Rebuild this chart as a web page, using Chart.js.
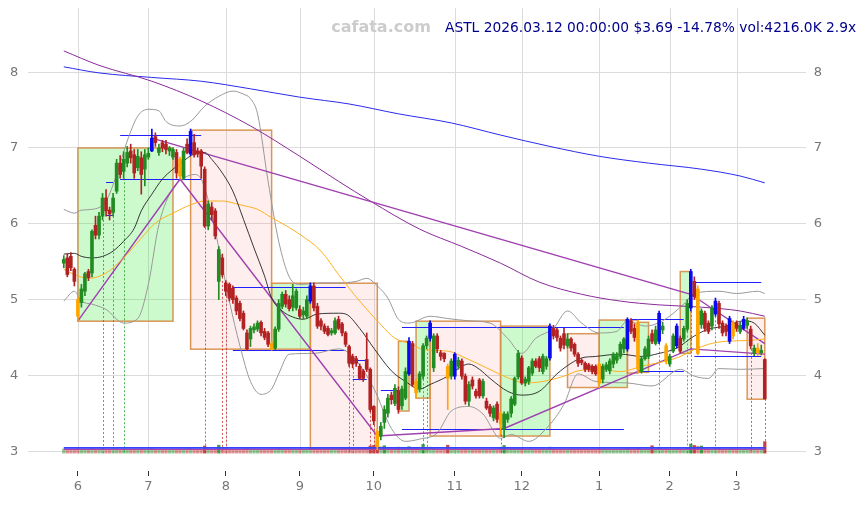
<!DOCTYPE html>
<html>
<head>
<meta charset="utf-8">
<script src="https://cdn.jsdelivr.net/npm/chart.js@4.4.1/dist/chart.umd.min.js"></script>
<style>
  html, body { margin: 0; padding: 0; background: #fff; }
</style>
</head>
<body>
<canvas id="chart" width="867" height="505"></canvas>
<script>
// daily candles, index 0 = 2025-05-27 ... index 199 = 2026-03-12
const opens = [
  5.48, 5.55, 5.57, 5.40, 5.00, 4.96, 5.11, 5.37, 5.35, 5.98,
  5.85, 6.10, 6.34, 6.18, 6.15, 6.43, 6.80, 6.69, 6.80, 6.96,
  6.91, 6.74, 6.87, 6.72, 6.88, 6.96, 7.15, 6.94, 7.07, 7.05,
  6.96, 6.88, 6.94, 6.85, 6.60, 7.05, 6.92, 7.07, 6.96, 6.96,
  6.72, 5.97, 6.22, 6.17, 5.24, 5.55, 5.22, 5.20, 5.15, 5.02,
  4.95, 4.82, 4.56, 4.48, 4.60, 4.61, 4.70, 4.58, 4.56, 4.42,
  4.36, 4.61, 4.91, 5.07, 5.00, 4.90, 4.89, 4.87, 4.80, 4.78,
  4.98, 5.18, 4.91, 4.72, 4.65, 4.62, 4.56, 4.56, 4.74, 4.68,
  4.56, 4.38, 4.25, 4.22, 4.12, 4.06, 4.21, 4.08, 3.59, 3.26,
  3.20, 3.38, 3.50, 3.74, 3.63, 3.80, 3.60, 3.70, 4.02, 4.42,
  3.92, 3.82, 3.99, 4.39, 4.49, 4.10, 4.52, 4.30, 4.29, 4.12,
  3.99, 3.99, 4.12, 4.19, 3.99, 3.66, 3.94, 3.79, 3.94, 3.73,
  3.66, 3.59, 3.44, 3.62, 3.50, 3.29, 3.42, 3.50, 3.62, 3.98,
  4.23, 3.90, 3.92, 4.03, 4.19, 4.22, 4.05, 4.12, 4.23, 4.62,
  4.60, 4.49, 4.55, 4.39, 4.48, 4.41, 4.28, 4.20, 4.16, 4.14,
  4.12, 4.12, 4.15, 3.95, 4.08, 4.06, 4.15, 4.20, 4.25, 4.35,
  4.35, 4.72, 4.62, 4.70, 4.05, 4.22, 4.25, 4.55, 4.42, 4.45,
  4.60, 4.39, 4.15, 4.32, 4.39, 4.49, 4.48, 4.61, 4.89, 5.24,
  5.14, 4.67, 4.82, 4.69, 4.65, 4.81, 4.95, 4.69, 4.65, 4.45,
  4.69, 4.69, 4.58, 4.62, 4.66, 4.61, 4.29, 4.36, 4.30, 4.21
];
const highs = [
  5.58, 5.60, 5.62, 5.42, 5.05, 5.20, 5.36, 5.40, 5.92, 6.10,
  6.15, 6.40, 6.45, 6.22, 6.40, 6.85, 6.90, 6.95, 7.02, 7.05,
  6.98, 6.98, 6.95, 6.98, 7.00, 7.25, 7.20, 7.05, 7.10, 7.10,
  7.02, 7.00, 6.98, 6.88, 7.00, 7.12, 7.25, 7.18, 7.00, 6.98,
  6.75, 6.30, 6.28, 6.20, 5.70, 5.60, 5.25, 5.22, 5.18, 5.05,
  4.98, 4.85, 4.60, 4.65, 4.68, 4.72, 4.72, 4.62, 4.58, 4.45,
  4.64, 5.00, 5.10, 5.12, 5.05, 5.20, 5.14, 4.92, 4.90, 5.05,
  5.22, 5.22, 4.95, 4.75, 4.68, 4.65, 4.62, 4.76, 4.78, 4.70,
  4.58, 4.40, 4.28, 4.25, 4.15, 4.08, 4.56, 4.10, 3.60, 3.30,
  3.38, 3.60, 3.75, 3.78, 3.88, 3.85, 3.86, 4.10, 4.50, 4.45,
  3.95, 4.05, 4.42, 4.52, 4.72, 4.55, 4.55, 4.33, 4.30, 4.15,
  4.22, 4.30, 4.24, 4.22, 4.02, 3.92, 3.98, 3.82, 3.96, 3.95,
  3.70, 3.62, 3.60, 3.65, 3.52, 3.52, 3.52, 3.72, 3.98, 4.33,
  4.26, 3.98, 4.12, 4.22, 4.22, 4.25, 4.28, 4.25, 4.68, 4.66,
  4.62, 4.52, 4.62, 4.55, 4.50, 4.43, 4.30, 4.22, 4.18, 4.16,
  4.14, 4.14, 4.18, 4.15, 4.17, 4.22, 4.30, 4.30, 4.44, 4.50,
  4.76, 4.75, 4.68, 4.73, 4.25, 4.38, 4.52, 4.60, 4.65, 4.85,
  4.70, 4.42, 4.28, 4.55, 4.68, 4.52, 4.65, 5.00, 5.40, 5.30,
  5.18, 4.88, 4.85, 4.72, 4.92, 5.02, 4.98, 4.72, 4.68, 4.78,
  4.72, 4.72, 4.70, 4.78, 4.76, 4.65, 4.40, 4.42, 4.40, 4.22
];
const lows = [
  5.42, 5.30, 5.38, 5.18, 4.72, 4.90, 5.05, 5.25, 5.30, 5.80,
  5.80, 6.05, 6.10, 6.05, 6.10, 6.40, 6.60, 6.60, 6.75, 6.80,
  6.60, 6.70, 6.39, 6.50, 6.85, 6.95, 7.02, 6.90, 6.95, 6.92,
  6.90, 6.85, 6.60, 6.59, 6.58, 6.92, 6.90, 6.88, 6.88, 6.60,
  5.95, 5.92, 6.05, 5.80, 5.00, 5.30, 5.05, 4.98, 4.95, 4.80,
  4.72, 4.60, 4.33, 4.38, 4.56, 4.58, 4.52, 4.47, 4.38, 4.33,
  4.34, 4.58, 4.88, 4.90, 4.85, 4.85, 4.86, 4.75, 4.75, 4.75,
  4.95, 4.85, 4.62, 4.60, 4.55, 4.52, 4.53, 4.54, 4.60, 4.52,
  4.38, 4.12, 4.10, 4.12, 3.94, 3.92, 4.05, 3.52, 3.35, 3.02,
  3.15, 3.30, 3.45, 3.62, 3.60, 3.50, 3.55, 3.68, 4.00, 3.85,
  3.70, 3.78, 3.95, 4.35, 4.45, 4.05, 4.30, 4.20, 4.18, 3.55,
  3.95, 3.95, 4.08, 3.95, 3.62, 3.60, 3.82, 3.70, 3.70, 3.70,
  3.55, 3.46, 3.40, 3.38, 3.22, 3.18, 3.38, 3.45, 3.60, 3.95,
  3.88, 3.86, 3.88, 4.00, 4.10, 4.05, 4.02, 4.08, 4.20, 4.48,
  4.45, 4.32, 4.35, 4.36, 4.32, 4.25, 4.12, 4.14, 4.05, 4.05,
  4.02, 4.00, 3.84, 3.90, 4.05, 4.02, 4.10, 4.16, 4.22, 4.30,
  4.32, 4.55, 4.45, 4.04, 4.03, 4.20, 4.22, 4.42, 4.40, 4.42,
  4.55, 4.15, 4.12, 4.30, 4.36, 4.30, 4.45, 4.58, 4.85, 5.00,
  4.27, 4.62, 4.58, 4.55, 4.60, 4.78, 4.62, 4.52, 4.52, 4.42,
  4.48, 4.58, 4.55, 4.60, 4.62, 4.35, 4.26, 4.26, 4.27, 3.69
];
const closes = [
  5.53, 5.33, 5.42, 5.24, 4.78, 5.14, 5.34, 5.29, 5.90, 5.85,
  6.10, 6.34, 6.17, 6.13, 6.34, 6.80, 6.65, 6.85, 6.94, 6.87,
  6.67, 6.89, 6.65, 6.91, 6.93, 7.13, 7.07, 7.00, 7.00, 6.98,
  7.00, 6.98, 6.67, 6.63, 6.96, 6.94, 7.22, 6.91, 6.92, 6.76,
  5.97, 6.26, 6.12, 5.84, 5.66, 5.33, 5.11, 5.02, 5.00, 4.85,
  4.75, 4.62, 4.35, 4.62, 4.64, 4.69, 4.56, 4.50, 4.41, 4.35,
  4.61, 4.95, 5.07, 4.94, 4.88, 5.05, 5.11, 4.78, 4.85, 5.00,
  5.18, 4.89, 4.65, 4.65, 4.58, 4.54, 4.59, 4.72, 4.62, 4.56,
  4.41, 4.16, 4.15, 4.16, 3.96, 3.96, 4.08, 3.55, 3.40, 3.06,
  3.33, 3.55, 3.70, 3.68, 3.83, 3.55, 3.82, 4.05, 4.45, 3.88,
  3.77, 4.02, 4.39, 4.49, 4.69, 4.52, 4.35, 4.25, 4.22, 3.96,
  4.19, 4.28, 4.20, 3.99, 3.66, 3.88, 3.86, 3.73, 3.73, 3.92,
  3.57, 3.50, 3.57, 3.42, 3.36, 3.49, 3.49, 3.69, 3.96, 4.29,
  3.90, 3.95, 4.10, 4.19, 4.12, 4.10, 4.25, 4.22, 4.65, 4.52,
  4.50, 4.36, 4.40, 4.48, 4.36, 4.28, 4.16, 4.17, 4.08, 4.08,
  4.05, 4.02, 3.90, 4.12, 4.14, 4.19, 4.28, 4.26, 4.41, 4.48,
  4.74, 4.58, 4.50, 4.08, 4.22, 4.35, 4.48, 4.45, 4.60, 4.82,
  4.65, 4.19, 4.25, 4.52, 4.65, 4.32, 4.62, 4.95, 5.37, 5.04,
  4.29, 4.85, 4.62, 4.58, 4.89, 4.98, 4.68, 4.56, 4.58, 4.75,
  4.52, 4.62, 4.66, 4.74, 4.72, 4.39, 4.36, 4.30, 4.33, 3.69
];
// volume in thousands of shares
const volumes = [
  1500, 1400, 1350, 1300, 1700, 1450, 1500, 1300, 2100, 1600,
  1500, 1700, 1400, 1300, 1450, 1650, 1350, 1500, 1400, 1300,
  1450, 1350, 1500, 1400, 1300, 2000, 1450, 1200, 1250, 1200,
  1150, 1200, 1400, 1500, 1450, 1300, 1900, 1400, 1200, 1350,
  2600, 1700, 1400, 1500, 2900, 1800, 1600, 1500, 1450, 1500,
  1550, 1500, 1700, 1400, 1200, 1300, 1250, 1300, 1400, 1500,
  1450, 1700, 1500, 1350, 1300, 1450, 1400, 1300, 1250, 1400,
  1800, 1600, 1500, 1400, 1350, 1300, 1250, 1400, 1350, 1400,
  1500, 1700, 1600, 1500, 1650, 1700, 1900, 2600, 2800, 3400,
  2300, 2700, 1900, 1600, 1700, 2200, 1800, 2000, 2500, 2000,
  1900, 1700, 3200, 2000, 2200, 1800, 1500, 1400, 1350, 2900,
  1600, 1700, 1500, 1400, 1600, 1500, 1300, 1250, 1300, 1350,
  1400, 1350, 1300, 1400, 1800, 2800, 1600, 1700, 1900, 2000,
  1700, 1400, 1500, 1450, 1300, 1350, 1400, 1300, 2200, 1500,
  1350, 1300, 1250, 1200, 1300, 1250, 1300, 1200, 1150, 1200,
  1150, 1200, 1600, 1400, 1300, 1350, 1300, 1250, 1400, 1450,
  2000, 1500, 1400, 1900, 1450, 1400, 1500, 2700, 1500, 2200,
  1400, 1600, 1300, 1450, 1700, 1500, 1450, 1900, 3300, 2800,
  2500, 2600, 1600, 1500, 1400, 1700, 1800, 1500, 1400, 1600,
  1500, 1400, 1300, 1450, 1400, 1700, 1500, 1450, 1400, 4216
];
// signal candles
const blueIdx = [25, 36, 70, 98, 104, 111, 138, 160, 169, 174, 178, 185, 189, 193];
const orangeIdx = [4, 33, 59, 89, 100, 109, 124, 152, 163, 171, 180, 190, 197];

// x axis: first trading day of each month
const monthTickIdx = [4, 24, 46, 67, 88, 111, 130, 152, 172, 191];
const monthLabels = ['6', '7', '8', '9', '10', '11', '12', '1', '2', '3'];
const priceTicks = [3, 4, 5, 6, 7, 8];

// overlay lines: [index, price]
const ma20 = [[0,5.60],[3,5.61],[5,5.57],[8,5.55],[11,5.57],[14,5.64],[17,5.77],[20,5.94],[22,6.17],[25,6.39],[28,6.59],[31,6.72],[34,6.83],[37,6.92],[40,6.94],[42,6.85],[45,6.67],[48,6.43],[51,6.06],[54,5.68],[57,5.31],[59,5.02],[62,4.85],[65,4.77],[68,4.74],[72,4.81],[78,4.82],[80,4.81],[84,4.62],[88,4.36],[93,4.06],[97,3.92],[101,3.82],[104,3.88],[109,3.99],[113,4.12],[115,4.15],[118,4.08],[121,3.96],[126,3.79],[130,3.74],[135,3.79],[140,4.02],[144,4.16],[147,4.23],[151,4.25],[158,4.28],[164,4.25],[169,4.29],[174,4.36],[179,4.52],[183,4.61],[188,4.65],[193,4.72],[196,4.69],[199,4.53]];
const ma50 = [[0,5.40],[3,5.33],[7,5.28],[12,5.35],[17,5.55],[22,5.81],[26,6.01],[31,6.14],[36,6.25],[40,6.30],[45,6.30],[50,6.25],[55,6.19],[59,6.08],[61,6.03],[67,5.86],[73,5.64],[78,5.33],[84,4.98],[90,4.67],[94,4.49],[99,4.41],[102,4.34],[109,4.32],[114,4.23],[120,4.10],[126,3.97],[131,3.90],[136,3.92],[142,3.99],[146,4.06],[152,4.08],[158,4.05],[164,4.12],[174,4.23],[179,4.34],[183,4.41],[188,4.45],[194,4.46],[199,4.48]];
const bandUpper = [[0,6.19],[3,6.14],[5,6.18],[8,6.19],[12,6.30],[15,6.65],[18,7.09],[21,7.42],[24,7.51],[27,7.49],[29,7.35],[33,7.29],[36,7.35],[40,7.55],[44,7.68],[48,7.75],[51,7.71],[53,7.65],[55,7.45],[58,6.56],[61,5.77],[64,5.30],[67,5.20],[73,5.22],[78,5.22],[83,5.24],[86,5.28],[89,5.18],[92,5.02],[95,4.74],[98,4.69],[104,4.78],[109,4.75],[115,4.72],[121,4.69],[126,4.49],[130,4.29],[134,4.49],[139,4.62],[143,4.85],[147,4.69],[152,4.56],[157,4.58],[160,4.72],[165,4.65],[170,4.72],[176,4.94],[179,5.08],[186,5.11],[191,5.08],[197,5.11],[199,5.08]];
const bandLower = [[0,4.98],[3,5.11],[5,4.98],[8,4.94],[12,4.87],[17,4.69],[21,4.75],[24,5.20],[27,5.99],[31,6.47],[34,6.60],[37,6.65],[39,6.59],[42,6.13],[44,5.68],[47,4.98],[50,4.39],[53,3.92],[56,3.75],[59,3.82],[61,4.02],[64,4.28],[71,4.29],[78,4.35],[82,4.25],[88,3.83],[93,3.30],[97,3.13],[101,3.16],[106,3.24],[110,3.53],[115,3.59],[119,3.49],[124,3.17],[127,3.22],[132,3.13],[137,3.30],[142,3.62],[146,4.02],[151,3.92],[160,3.90],[167,3.86],[175,4.08],[179,3.99],[183,3.96],[186,4.09],[192,4.08],[199,4.09]];
const maLongPurple = [[0,8.28],[10,8.09],[25,7.88],[39,7.62],[53,7.29],[67,6.89],[78,6.56],[87,6.30],[101,5.93],[113,5.70],[124,5.48],[135,5.23],[147,5.07],[158,4.98],[169,4.93],[181,4.90],[192,4.85],[199,4.78]];
const maLongBlue = [[0,8.07],[10,7.99],[25,7.93],[39,7.88],[53,7.78],[67,7.67],[81,7.58],[95,7.45],[110,7.33],[124,7.17],[138,7.02],[152,6.89],[166,6.80],[181,6.72],[192,6.63],[199,6.54]];
const zigzag = [[4,4.72],[33,6.59],[89,3.20],[125,3.30],[178,4.35],[199,4.28]];
const trendLine = [[25,7.13],[178,5.07],[199,4.42]];
const volAvgBlue = [[0,3.044],[199,3.044]];
const volAvgPurple = [[0,3.026],[199,3.026]];

// boxes: [from index, to index, low, high, kind]
const boxes = [
  [4, 31, 4.715, 7.00, 'up'],
  [36, 59, 4.346, 7.235, 'dn'],
  [59, 70, 4.346, 5.216, 'up'],
  [70, 89, 3.03, 5.216, 'dn'],
  [95, 98, 3.53, 4.45, 'up'],
  [100, 104, 3.70, 4.715, 'up'],
  [104, 124, 3.20, 4.715, 'dn'],
  [124, 138, 3.20, 4.65, 'up'],
  [143, 152, 3.84, 4.55, 'dn'],
  [152, 160, 3.84, 4.73, 'up'],
  [160, 163, 4.03, 4.73, 'dn'],
  [163, 166, 4.04, 4.70, 'up'],
  [175, 178, 4.29, 5.37, 'up'],
  [194, 199, 3.686, 4.755, 'dn']
];
// horizontal levels: [from index, to index, price]
const levels = [
  [16, 39, 7.165], [16, 39, 6.585], [12, 14, 6.545], [12, 14, 6.12],
  [48, 80, 5.17], [48, 80, 4.33], [82, 86, 4.20], [82, 86, 3.95],
  [90, 95, 3.81], [96, 159, 4.64], [96, 159, 3.29],
  [161, 176, 4.75], [164, 176, 4.06], [179, 198, 5.23], [179, 198, 4.26]
];
const greenDrops = [11, 14, 17, 102, 103, 169, 177, 178, 185];
const redDrops = [40, 45, 46, 81, 82, 87, 88, 124, 195, 199];

const UP = '#228b22', DOWN = '#b22222', BLUE = '#0a0aee', ORANGE = '#ffa500';
const VOL_BASE = 2.975, VOL_SCALE = 0.000036, GRID_FLOOR = 2.962;

const candleColor = closes.map((c, i) => {
  if (blueIdx.includes(i)) return BLUE;
  if (orangeIdx.includes(i)) return ORANGE;
  return c >= opens[i] ? UP : DOWN;
});
const avgVol = volumes.reduce((a, b) => a + b, 0) / volumes.length;
const volColor = volumes.map((v, i) => {
  const up = closes[i] >= opens[i];
  const a = v > avgVol * 1.6 ? 0.85 : 0.5;
  return up ? `rgba(34,139,34,${a})` : `rgba(190,40,40,${a})`;
});

const pts = arr => arr.map(([x, y]) => ({ x, y }));
const lineDs = (arr, color, width, order, tension = 0.4) => ({
  type: 'line', data: pts(arr), borderColor: color, borderWidth: width,
  pointRadius: 0, tension, cubicInterpolationMode: tension ? 'monotone' : 'default',
  fill: false, order
});

const overlay = {
  id: 'overlay',
  beforeDatasetsDraw(chart) {
    const { ctx, chartArea: a, scales: { x, y } } = chart;
    ctx.save();
    // month grid lines, stop at the volume strip
    ctx.strokeStyle = '#dcdcdc';
    ctx.lineWidth = 1;
    monthTickIdx.forEach(v => {
      const px = Math.round(x.getPixelForValue(v)) + 0.5;
      ctx.beginPath();
      ctx.moveTo(px, a.top);
      ctx.lineTo(px, y.getPixelForValue(GRID_FLOOR));
      ctx.stroke();
    });
    // boxes
    boxes.forEach(([i0, i1, lo, hi, kind]) => {
      const x0 = x.getPixelForValue(i0), x1 = x.getPixelForValue(i1);
      const y0 = y.getPixelForValue(hi), y1 = y.getPixelForValue(lo);
      ctx.fillStyle = kind === 'up' ? 'rgba(40,235,40,0.24)' : 'rgba(245,120,120,0.13)';
      ctx.fillRect(x0, y0, x1 - x0, y1 - y0);
      ctx.strokeStyle = 'rgba(215,140,70,0.9)';
      ctx.lineWidth = 1.5;
      ctx.strokeRect(x0, y0, x1 - x0, y1 - y0);
    });
    // dotted drops to the volume strip
    ctx.lineWidth = 1;
    ctx.setLineDash([2, 2]);
    const drop = (list, color) => list.forEach(i => {
      const px = Math.round(x.getPixelForValue(i)) + 0.5;
      ctx.strokeStyle = color;
      ctx.beginPath();
      ctx.moveTo(px, y.getPixelForValue(lows[i]));
      ctx.lineTo(px, y.getPixelForValue(VOL_BASE));
      ctx.stroke();
    });
    drop(greenDrops, 'rgba(34,160,34,0.8)');
    drop(redDrops, 'rgba(200,50,50,0.8)');
    ctx.setLineDash([]);
    // support / resistance levels
    ctx.strokeStyle = '#2020ff';
    ctx.lineWidth = 1;
    levels.forEach(([i0, i1, p]) => {
      const py = Math.round(y.getPixelForValue(p)) + 0.5;
      ctx.beginPath();
      ctx.moveTo(x.getPixelForValue(i0), py);
      ctx.lineTo(x.getPixelForValue(i1), py);
      ctx.stroke();
    });
    ctx.restore();
  },
  afterDraw(chart) {
    const { ctx } = chart;
    ctx.save();
    ctx.textBaseline = 'alphabetic';
    ctx.font = 'bold 16px "DejaVu Sans"';
    ctx.fillStyle = '#cccccc';
    ctx.textAlign = 'center';
    ctx.fillText('cafata.com', 381, 32);
    ctx.font = '13.8px "DejaVu Sans"';
    ctx.fillStyle = '#00008b';
    ctx.textAlign = 'left';
    ctx.fillText('ASTL 2026.03.12 00:00:00 $3.69 -14.78% vol:4216.0K 2.9x', 445, 32);
    ctx.restore();
  }
};

Chart.defaults.font.family = '"DejaVu Sans", sans-serif';
Chart.defaults.font.size = 13;
Chart.defaults.color = '#777';

new Chart(document.getElementById('chart'), {
  type: 'bar',
  data: {
    datasets: [
      { type: 'bar', data: opens.map((o, i) => ({ x: i, y: [o, closes[i]] })),
        backgroundColor: candleColor, barThickness: 3, minBarLength: 1, grouped: false, order: 0 },
      { type: 'bar', data: lows.map((l, i) => ({ x: i, y: [l, highs[i]] })),
        backgroundColor: candleColor, barThickness: 1, grouped: false, order: 1 },
      lineDs(volAvgBlue, '#3344ff', 1.6, 2, 0),
      lineDs(volAvgPurple, '#aa44aa', 1.4, 3, 0),
      { type: 'bar', data: volumes.map((v, i) => ({ x: i, y: [VOL_BASE, VOL_BASE + v * VOL_SCALE] })),
        backgroundColor: volColor, barThickness: 2.6, grouped: false, order: 4 },
      lineDs(ma20, '#222222', 0.9, 5),
      lineDs(ma50, '#ffb020', 1, 6),
      lineDs(zigzag, '#a040b0', 1.4, 7, 0),
      lineDs(trendLine, '#a040b0', 1.4, 8, 0),
      lineDs(maLongPurple, '#8a2a9a', 1, 9),
      lineDs(maLongBlue, '#2a2aee', 1, 10),
      lineDs(bandUpper, '#999999', 1, 11),
      lineDs(bandLower, '#999999', 1, 12)
    ]
  },
  options: {
    responsive: false,
    animation: false,
    events: [],
    layout: { padding: { top: 8, left: 10, right: 45, bottom: 0 } },
    plugins: { legend: { display: false }, tooltip: { enabled: false }, title: { display: false } },
    scales: {
      x: {
        type: 'linear', min: -10.16, max: 210.7, offset: false,
        afterBuildTicks: s => { s.ticks = monthTickIdx.map(v => ({ value: v })); },
        afterFit: s => { s.height = 34; },
        ticks: { callback: v => monthLabels[monthTickIdx.indexOf(v)], padding: 3, maxRotation: 0, autoSkip: false, color: '#777' },
        grid: { offset: false, drawOnChartArea: false, drawTicks: true, tickLength: 5, tickColor: '#333' },
        border: { display: false }
      },
      y: {
        type: 'linear', position: 'left', min: 2.739, max: 8.846,
        afterBuildTicks: s => { s.ticks = priceTicks.map(v => ({ value: v })); },
        afterFit: s => { s.width = 18; },
        ticks: { padding: 0, crossAlign: 'far', color: '#777' },
        grid: { color: '#dcdcdc', drawTicks: false },
        border: { display: false }
      },
      y2: {
        type: 'linear', position: 'right', min: 2.739, max: 8.846,
        afterBuildTicks: s => { s.ticks = priceTicks.map(v => ({ value: v })); },
        afterFit: s => { s.width = 16; },
        ticks: { padding: 0, crossAlign: 'far', color: '#777' },
        grid: { display: false, drawTicks: false },
        border: { display: false }
      }
    }
  },
  plugins: [overlay]
});
</script>
</body>
</html>
